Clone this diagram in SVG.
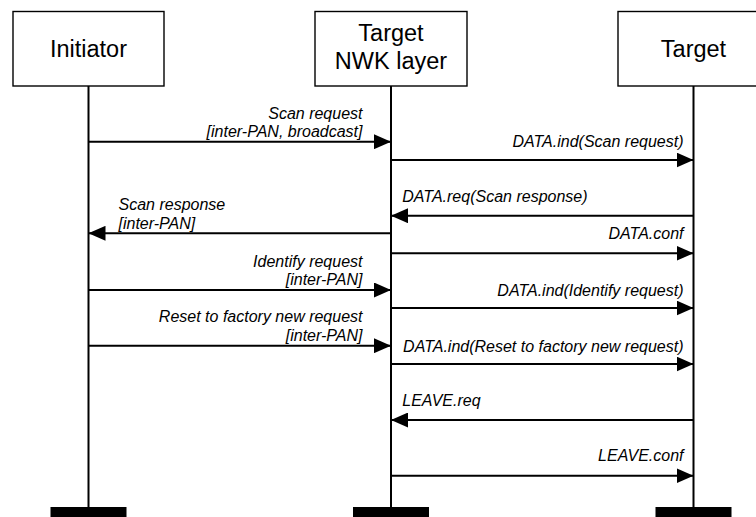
<svg xmlns="http://www.w3.org/2000/svg" width="756" height="517" viewBox="0 0 756 517">
  <defs>
    <marker id="ah" viewBox="0 0 17 15" refX="17" refY="7.5" markerWidth="17" markerHeight="15" markerUnits="userSpaceOnUse" orient="auto">
      <path d="M0,0 L17,7.5 L0,15 Z" fill="#000"/>
    </marker>
    <style>
      .box { fill: #fff; stroke: #000; stroke-width: 1.4; }
      .life { stroke: #000; stroke-width: 2; fill: none; }
      .bar { fill: #000; }
      .name { font-family: "Liberation Sans", Arial, sans-serif; font-size: 23.5px; fill: #000; text-anchor: middle; }
      .msg { stroke: #000; stroke-width: 2; fill: none; marker-end: url(#ah); }
      .lbl { font-family: "Liberation Sans", Arial, sans-serif; font-size: 16px; font-style: italic; fill: #000; }
      .r { text-anchor: end; }
      .l { text-anchor: start; }
    </style>
  </defs>

  <g id="initiator">
    <rect class="box" x="13" y="11.5" width="151" height="74.5"/>
    <text class="name" x="88.5" y="56.7">Initiator</text>
    <line class="life" x1="88.5" y1="86" x2="88.5" y2="507"/>
    <rect class="bar" x="50.5" y="507" width="76" height="10"/>
  </g>

  <g id="nwk">
    <rect class="box" x="315" y="11.5" width="152" height="74.5"/>
    <text class="name" x="391" y="40.5">Target</text>
    <text class="name" x="391" y="68.8">NWK layer</text>
    <line class="life" x1="391" y1="86" x2="391" y2="507"/>
    <rect class="bar" x="353" y="507" width="76" height="10"/>
  </g>

  <g id="target">
    <rect class="box" x="618" y="11.5" width="151" height="74.5"/>
    <text class="name" x="693.5" y="56.7">Target</text>
    <line class="life" x1="693.5" y1="86" x2="693.5" y2="507"/>
    <rect class="bar" x="655.5" y="507" width="76" height="10"/>
  </g>

  <g id="connectors">
    <line class="msg" x1="88.5" y1="141.7" x2="391" y2="141.7"/>
    <line class="msg" x1="391" y1="160" x2="693.5" y2="160"/>
    <line class="msg" x1="693.5" y1="215.7" x2="391" y2="215.7"/>
    <line class="msg" x1="391" y1="233.3" x2="88.5" y2="233.3"/>
    <line class="msg" x1="391" y1="253.3" x2="693.5" y2="253.3"/>
    <line class="msg" x1="88.5" y1="290" x2="391" y2="290"/>
    <line class="msg" x1="391" y1="308" x2="693.5" y2="308"/>
    <line class="msg" x1="88.5" y1="345.7" x2="391" y2="345.7"/>
    <line class="msg" x1="391" y1="364" x2="693.5" y2="364"/>
    <line class="msg" x1="693.5" y1="420" x2="391" y2="420"/>
    <line class="msg" x1="391" y1="475.7" x2="693.5" y2="475.7"/>
  </g>

  <g id="labels">
    <text class="lbl r" x="362.5" y="118.5">Scan request</text>
    <text class="lbl r" x="362.5" y="137">[inter-PAN, broadcast]</text>
    <text class="lbl r" x="683.5" y="146.7">DATA.ind(Scan request)</text>
    <text class="lbl l" x="402.3" y="202.3">DATA.req(Scan response)</text>
    <text class="lbl l" x="118.5" y="210">Scan response</text>
    <text class="lbl l" x="118.5" y="228.5">[inter-PAN]</text>
    <text class="lbl r" x="683.5" y="238.5">DATA.conf</text>
    <text class="lbl r" x="362.5" y="266.7">Identify request</text>
    <text class="lbl r" x="362.5" y="285">[inter-PAN]</text>
    <text class="lbl r" x="683.5" y="295.7">DATA.ind(Identify request)</text>
    <text class="lbl r" x="362.5" y="321.7">Reset to factory new request</text>
    <text class="lbl r" x="362.5" y="340.5">[inter-PAN]</text>
    <text class="lbl r" x="683.5" y="351.7">DATA.ind(Reset to factory new request)</text>
    <text class="lbl l" x="402.3" y="405.7">LEAVE.req</text>
    <text class="lbl r" x="683.5" y="461">LEAVE.conf</text>
  </g>
</svg>
